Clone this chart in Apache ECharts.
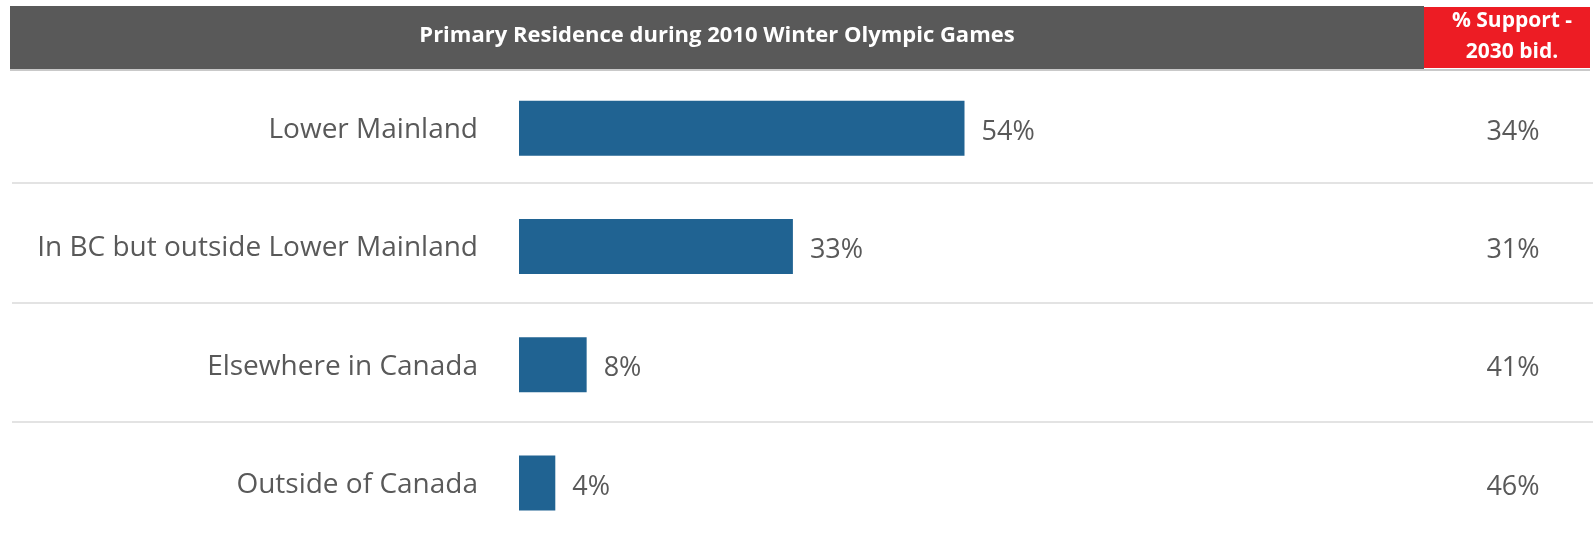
<!DOCTYPE html>
<html>
<head>
<meta charset="utf-8">
<script src="https://cdn.jsdelivr.net/npm/echarts@6/dist/echarts.min.js"></script>
<style>
html,body{margin:0;padding:0;background:#fff;}
#chart{width:1593px;height:542px;}
</style>
</head>
<body>
<div id="chart"></div>
<script>
const categories = ['Lower Mainland', 'In BC but outside Lower Mainland', 'Elsewhere in Canada', 'Outside of Canada'];
const residenceShare = [54, 33.2, 8.2, 4.4];
const supportFor2030 = [34, 31, 41, 46];
const headerTitle = 'Primary Residence during 2010 Winter Olympic Games';
const supportHeader = '% Support -\n2030 bid.';

const supportLabels = supportFor2030.map(v => v + '%');
const FONT = '"Open Sans", "Noto Sans", sans-serif';
const GREY_TEXT = '#595959';

const chart = echarts.init(document.getElementById('chart'), null, {renderer: 'canvas'});
chart.setOption({
  animation: false,
  backgroundColor: '#ffffff',
  graphic: [
    {type: 'rect', z: 100, shape: {x: 10, y: 69, width: 1580, height: 2}, style: {fill: '#c9c9c9'}},
    {type: 'rect', z: 101, shape: {x: 10, y: 6, width: 1414, height: 63}, style: {fill: '#595959'}},
    {type: 'rect', z: 101, shape: {x: 1424, y: 7, width: 166, height: 61}, style: {fill: '#ED1C24'}},
    {type: 'text', z: 102, x: 717, y: 36, style: {
      text: headerTitle, fill: '#ffffff', fontFamily: FONT, fontWeight: 'bold', fontSize: 22,
      textAlign: 'center', textVerticalAlign: 'middle'}},
    {type: 'text', z: 102, x: 1512, y: 37, style: {
      text: supportHeader, fill: '#ffffff', fontFamily: FONT, fontWeight: 'bold', fontSize: 21,
      lineHeight: 31, textAlign: 'center', textVerticalAlign: 'middle'}}
  ],
  grid: [
    {left: 519, width: 825, top: 69, height: 480},
    {left: 12, right: 0, top: 62.5, height: 480}
  ],
  xAxis: [
    {gridIndex: 0, type: 'value', min: 0, max: 100, show: false},
    {gridIndex: 1, type: 'value', min: 0, max: 1, show: false}
  ],
  yAxis: [
    {gridIndex: 0, type: 'category', data: categories, inverse: true,
      axisLine: {show: false}, axisTick: {show: false}, splitLine: {show: false},
      axisLabel: {margin: 41, fontSize: 28, color: GREY_TEXT, fontFamily: FONT,
        verticalAlign: 'top', lineHeight: 4}},
    {gridIndex: 0, type: 'category', position: 'right', data: supportLabels, inverse: true,
      axisLine: {show: false}, axisTick: {show: false}, splitLine: {show: false},
      axisLabel: {margin: 169, align: 'center', fontSize: 27, color: GREY_TEXT, fontFamily: FONT,
        verticalAlign: 'top', lineHeight: 8}},
    {gridIndex: 1, type: 'category', data: categories, inverse: true,
      axisLine: {show: false}, axisTick: {show: false}, axisLabel: {show: false},
      splitLine: {show: true, showMinLine: false, showMaxLine: false,
        lineStyle: {color: '#e3e3e3', width: 2}}}
  ],
  series: [{
    type: 'bar', xAxisIndex: 0, yAxisIndex: 0,
    data: residenceShare, barWidth: 55,
    itemStyle: {color: '#206392'},
    label: {show: true, position: 'right', distance: 17, offset: [0, 4],
      formatter: p => Math.round(p.value) + '%',
      fontSize: 27, color: GREY_TEXT, fontFamily: FONT}
  }]
});
</script>
</body>
</html>
